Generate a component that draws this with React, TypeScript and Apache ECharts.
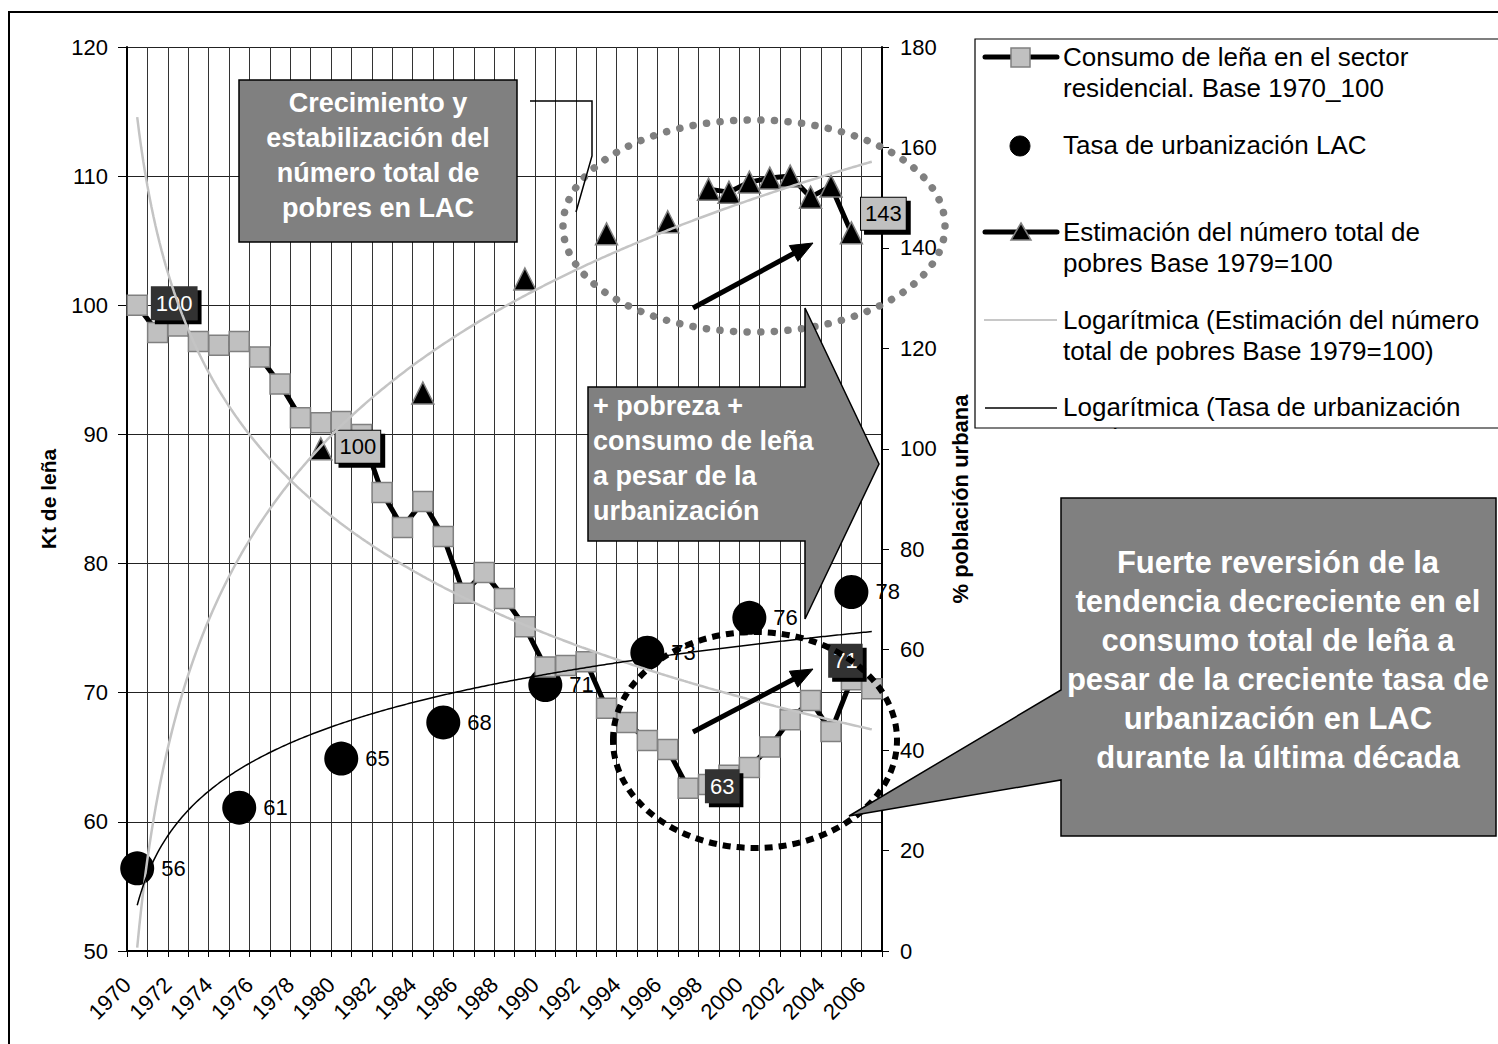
import React, { useEffect, useRef } from 'react';
import * as echarts from 'echarts';

const FONT = '"Liberation Sans", Arial, Helvetica, sans-serif';

// Categories (one per year)
const years = [
  '1970', '1971', '1972', '1973', '1974', '1975', '1976', '1977', '1978', '1979',
  '1980', '1981', '1982', '1983', '1984', '1985', '1986', '1987', '1988', '1989',
  '1990', '1991', '1992', '1993', '1994', '1995', '1996', '1997', '1998', '1999',
  '2000', '2001', '2002', '2003', '2004', '2005', '2006',
];

// Tick labels shown under the axis (every other year)
const xTickLabels = [
  '1970', '1972', '1974', '1976', '1978', '1980', '1982', '1984', '1986', '1988',
  '1990', '1992', '1994', '1996', '1998', '2000', '2002', '2004', '2006',
];

// Consumo de leña en el sector residencial. Base 1970_100 (left axis)
const consumo = [
  100, 97.9, 98.4, 97.2, 96.9, 97.2, 96.0, 93.9, 91.3, 90.9,
  91.0, 90.0, 85.5, 82.8, 84.8, 82.1, 77.7, 79.3, 77.3, 75.1,
  72.0, 72.1, 72.4, 68.8, 67.7, 66.3, 65.6, 62.6, 62.9, 63.6,
  64.2, 65.8, 67.9, 69.4, 67.0, 71.0, 70.3,
];

// Tasa de urbanización LAC (plotted against the left axis in the original)
const urbanizacion = [
  56.4, null, null, null, null, 61.1, null, null, null, null,
  64.9, null, null, null, null, 67.7, null, null, null, null,
  70.6, null, null, null, null, 73.1, null, null, null, null,
  75.8, null, null, null, null, 77.8, null,
];

// Estimación del número total de pobres Base 1979=100 (right axis)
const pobres = [
  null, null, null, null, null, null, null, null, null, 100,
  null, null, null, null, 111.1, null, null, null, null, 133.8,
  null, null, null, 142.8, null, null, 145.2, null, 151.7, 151.1,
  153.1, 153.9, 154.3, 150.1, 152.3, 143.0, null,
];

// Which points carry a boxed data label (index -> style key)
const consumoLabels: Record<number, string> = { 0: 'dark', 27: 'dark', 35: 'dark' };
const pobresLabels: Record<number, string> = { 9: 'light', 35: 'light' };

// label offsets relative to the marker (style only)
const labelOffsets: Record<string, number[]> = {
  'c0': [37, -2], 'c27': [34, -2], 'c35': [-6, -19],
  'p9': [37, -2], 'p35': [32, -19],
};

function logFit(values: (number | null)[]) {
  const xs: number[] = [];
  const ys: number[] = [];
  values.forEach((v, i) => {
    if (v != null) { xs.push(Math.log(i + 1)); ys.push(v); }
  });
  const n = xs.length;
  const mx = xs.reduce((s, v) => s + v, 0) / n;
  const my = ys.reduce((s, v) => s + v, 0) / n;
  let sxy = 0, sxx = 0;
  for (let i = 0; i < n; i++) { sxy += (xs[i] - mx) * (ys[i] - my); sxx += (xs[i] - mx) ** 2; }
  const a = sxy / sxx;
  return { a, b: my - a * mx };
}

// Excel-style logarithmic trendline sampled along the category range (x = 1..n)
function trendPoints(values: (number | null)[]) {
  const { a, b } = logFit(values);
  const n = values.length;
  const pts: number[][] = [];
  const steps = (n - 1) * 10;
  for (let k = 0; k <= steps; k++) {
    const x = 1 + (k * (n - 1)) / steps;
    pts.push([x - 0.5, a * Math.log(x) + b]);
  }
  return pts;
}

function boxLabel(kind: string, offset: number[]) {
  const dark = kind === 'dark';
  return {
    show: true,
    position: 'inside',
    offset,
    formatter: (p: any) => String(Math.round(p.value)),
    fontSize: 22,
    fontFamily: FONT,
    color: dark ? '#ffffff' : '#000000',
    backgroundColor: dark ? '#333333' : '#c0c0c0',
    borderColor: dark ? '#333333' : '#000000',
    borderWidth: 1,
    padding: [6, 4, 4, 4],
    shadowColor: '#000000',
    shadowOffsetX: 4,
    shadowOffsetY: 4,
    shadowBlur: 0,
  };
}

function arrowShapes(x1: number, y1: number, x2: number, y2: number, z: number) {
  const dx = x2 - x1, dy = y2 - y1;
  const len = Math.sqrt(dx * dx + dy * dy);
  const ux = dx / len, uy = dy / len;
  const L = 22, W = 9;
  const bx = x2 - ux * L, by = y2 - uy * L;
  const px = -uy, py = ux;
  return [
    { type: 'line', z, shape: { x1, y1, x2: bx + ux * 2, y2: by + uy * 2 }, style: { stroke: '#000', lineWidth: 5 } },
    { type: 'polygon', z, shape: { points: [[x2, y2], [bx + px * W, by + py * W], [bx - px * W, by - py * W]] }, style: { fill: '#000', stroke: '#000', lineWidth: 1 } },
  ];
}

function legendText(text: string, x: number, y: number, z: number) {
  return { type: 'text', z, x, y, style: { text, fill: '#000', fontSize: 26, fontFamily: FONT, align: 'left', verticalAlign: 'middle' } };
}

export default function App() {
  const ref = useRef<HTMLDivElement>(null);

  useEffect(() => {
    if (!ref.current) return;
    const chart = echarts.init(ref.current, undefined, { renderer: 'svg' });

    const consumoData = consumo.map((v, i) =>
      consumoLabels[i] ? { value: v, label: boxLabel(consumoLabels[i], labelOffsets['c' + i]) } : v);
    const pobresData = pobres.map((v, i) =>
      pobresLabels[i] && v != null ? { value: v, label: boxLabel(pobresLabels[i], labelOffsets['p' + i]) } : v);

    const G = 20;
    const graphic: any[] = [
      // outer chart border
      { type: 'rect', z: G, shape: { x: 9, y: 12, width: 1495, height: 1040 }, style: { fill: 'none', stroke: '#000', lineWidth: 2 } },

      // dotted grey ellipse (poverty growth)
      { type: 'ellipse', z: G + 1, shape: { cx: 754, cy: 226, rx: 191, ry: 106 }, style: { fill: 'none', stroke: '#808080', lineWidth: 7.5, lineDash: [0.1, 13.5], lineCap: 'round' } },

      // box "Crecimiento y estabilización..."
      { type: 'rect', z: G + 2, shape: { x: 239, y: 80, width: 278, height: 162 }, style: { fill: '#808080', stroke: '#000', lineWidth: 1.5 } },
      { type: 'text', z: G + 3, x: 378, y: 155, style: { text: 'Crecimiento y\nestabilización del\nnúmero total de\npobres en LAC', fill: '#fff', fontSize: 27, fontWeight: 'bold', fontFamily: FONT, lineHeight: 35, align: 'center', verticalAlign: 'middle' } },
      { type: 'polyline', z: G + 2, shape: { points: [[530, 101], [592, 101], [592, 156], [576, 212]] }, style: { fill: 'none', stroke: '#000', lineWidth: 1.5 } },

      // big arrow "+ pobreza + consumo de leña..."
      { type: 'polygon', z: G + 4, shape: { points: [[588, 387], [805, 387], [805, 308], [879, 464], [805, 619], [805, 541], [588, 541]] }, style: { fill: '#808080', stroke: '#000', lineWidth: 1.5 } },
      { type: 'text', z: G + 5, x: 593, y: 458, style: { text: '+ pobreza +\nconsumo de leña\na pesar de la\nurbanización', fill: '#fff', fontSize: 27, fontWeight: 'bold', fontFamily: FONT, lineHeight: 35, align: 'left', verticalAlign: 'middle' } },

      // dashed black ellipse (reversal)
      { type: 'ellipse', z: G + 6, shape: { cx: 755, cy: 740, rx: 142, ry: 108 }, style: { fill: 'none', stroke: '#000', lineWidth: 6, lineDash: [8, 6] } },

      // callout "Fuerte reversión..."
      { type: 'polygon', z: G + 7, shape: { points: [[1061, 498], [1496, 498], [1496, 836], [1061, 836], [1061, 780], [849, 816], [1061, 690]] }, style: { fill: '#808080', stroke: '#000', lineWidth: 1.5 } },
      { type: 'text', z: G + 8, x: 1278, y: 660, style: { text: 'Fuerte reversión de la\ntendencia decreciente en el\nconsumo total de leña a\npesar de la creciente tasa de\nurbanización en LAC\ndurante la última década', fill: '#fff', fontSize: 31, fontWeight: 'bold', fontFamily: FONT, lineHeight: 39, align: 'center', verticalAlign: 'middle' } },

      // black arrows
      ...arrowShapes(693, 308, 813, 243, G + 9),
      ...arrowShapes(693, 732, 813, 669, G + 9),

      // legend
      { type: 'rect', z: G + 10, shape: { x: 975, y: 39, width: 600, height: 389 }, style: { fill: '#fff', stroke: 'none' } },
      { type: 'line', z: G + 11, shape: { x1: 985, y1: 57, x2: 1057, y2: 57 }, style: { stroke: '#000', lineWidth: 5, lineCap: 'round' } },
      { type: 'rect', z: G + 12, shape: { x: 1011, y: 48, width: 19, height: 19 }, style: { fill: '#c0c0c0', stroke: '#808080', lineWidth: 1.5 } },
      legendText('Consumo de leña en el sector', 1063, 57, G + 12),
      legendText('residencial. Base 1970_100', 1063, 88, G + 12),
      { type: 'circle', z: G + 12, shape: { cx: 1020, cy: 146, r: 10 }, style: { fill: '#000', stroke: '#000' } },
      legendText('Tasa de urbanización LAC', 1063, 145, G + 12),
      { type: 'line', z: G + 11, shape: { x1: 985, y1: 232, x2: 1057, y2: 232 }, style: { stroke: '#000', lineWidth: 5, lineCap: 'round' } },
      { type: 'polygon', z: G + 12, shape: { points: [[1021, 223], [1031, 240], [1011, 240]] }, style: { fill: '#000', stroke: '#808080', lineWidth: 1.5 } },
      legendText('Estimación del número total de', 1063, 232, G + 12),
      legendText('pobres Base 1979=100', 1063, 263, G + 12),
      { type: 'line', z: G + 11, shape: { x1: 984, y1: 320, x2: 1057, y2: 320 }, style: { stroke: '#c8c8c8', lineWidth: 2 } },
      legendText('Logarítmica (Estimación del número', 1063, 320, G + 12),
      legendText('total de pobres Base 1979=100)', 1063, 351, G + 12),
      { type: 'line', z: G + 11, shape: { x1: 985, y1: 408, x2: 1057, y2: 408 }, style: { stroke: '#000', lineWidth: 1.5 } },
      legendText('Logarítmica (Tasa de urbanización', 1063, 407, G + 12),
      legendText('LAC)', 1063, 438, G + 12),
      { type: 'rect', z: G + 13, shape: { x: 974, y: 429, width: 540, height: 40 }, style: { fill: '#fff', stroke: 'none' } },
      { type: 'rect', z: G + 14, shape: { x: 975, y: 39, width: 600, height: 389 }, style: { fill: 'none', stroke: '#000', lineWidth: 1.2 } },
    ];

    const option: any = {
      animation: false,
      backgroundColor: '#ffffff',
      textStyle: { fontFamily: FONT },
      grid: { left: 127, right: 616, top: 47, bottom: 93, containLabel: false },
      xAxis: [
        { type: 'category', data: years, boundaryGap: true, show: false },
        {
          type: 'value', min: 0, max: years.length, interval: 1, position: 'bottom',
          axisLine: { show: true, onZero: false, lineStyle: { color: '#000', width: 2 } },
          axisTick: { show: true, length: 6, lineStyle: { color: '#000', width: 1 } },
          axisLabel: {
            rotate: 45, fontSize: 22, color: '#000', margin: 30, fontFamily: FONT,
            formatter: (v: number) => (v % 2 === 0 && xTickLabels[v / 2]) ? xTickLabels[v / 2] : '',
          },
          splitLine: { show: true, lineStyle: { color: '#333', width: 1 } },
        },
      ],
      yAxis: [
        {
          type: 'value', min: 50, max: 120, interval: 10, position: 'left',
          name: 'Kt de leña', nameLocation: 'middle', nameGap: 68, nameRotate: 90,
          nameTextStyle: { fontSize: 21, fontWeight: 'bold', color: '#000', fontFamily: FONT },
          axisLine: { show: true, lineStyle: { color: '#000', width: 2 } },
          axisTick: { show: true, length: 9, lineStyle: { color: '#000' } },
          axisLabel: { fontSize: 22, color: '#000', margin: 19, fontFamily: FONT },
          splitLine: { show: true, lineStyle: { color: '#222', width: 1 } },
        },
        {
          type: 'value', min: 0, max: 180, interval: 20, position: 'right',
          name: '% población urbana', nameLocation: 'middle', nameGap: 67, nameRotate: 90,
          nameTextStyle: { fontSize: 22, fontWeight: 'bold', color: '#000', fontFamily: FONT },
          axisLine: { show: true, lineStyle: { color: '#000', width: 2 } },
          axisTick: { show: true, length: 7, lineStyle: { color: '#000' } },
          axisLabel: { fontSize: 22, color: '#000', margin: 18, fontFamily: FONT },
          splitLine: { show: false },
        },
      ],
      series: [
        {
          name: 'Tasa de urbanización LAC', type: 'line', xAxisIndex: 0, yAxisIndex: 0,
          data: urbanizacion, symbol: 'circle', symbolSize: 34, showAllSymbol: true,
          lineStyle: { opacity: 0, width: 0 }, itemStyle: { color: '#000' },
          label: { show: true, position: 'right', distance: 7, fontSize: 22, color: '#000', fontFamily: FONT,
            formatter: (p: any) => String(Math.round(p.value)) },
          z: 2, silent: true,
        },
        {
          name: 'Consumo de leña en el sector residencial. Base 1970_100', type: 'line', xAxisIndex: 0, yAxisIndex: 0,
          data: consumoData, symbol: 'rect', symbolSize: 20, showAllSymbol: true,
          lineStyle: { color: '#000', width: 5 },
          itemStyle: { color: '#c0c0c0', borderColor: '#808080', borderWidth: 1.5 },
          z: 3, silent: true,
        },
        {
          name: 'Estimación del número total de pobres Base 1979=100', type: 'line', xAxisIndex: 0, yAxisIndex: 1,
          data: pobresData, symbol: 'triangle', symbolSize: 22, showAllSymbol: true, connectNulls: false,
          lineStyle: { color: '#000', width: 5 },
          itemStyle: { color: '#000', borderColor: '#808080', borderWidth: 1.5 },
          z: 4, silent: true,
        },
        {
          name: 'Logarítmica (Consumo de leña)', type: 'line', xAxisIndex: 1, yAxisIndex: 0,
          data: trendPoints(consumo), showSymbol: false, smooth: false,
          lineStyle: { color: '#c4c4c4', width: 2.5 }, z: 5, silent: true,
        },
        {
          name: 'Logarítmica (Estimación del número total de pobres Base 1979=100)', type: 'line', xAxisIndex: 1, yAxisIndex: 1,
          data: trendPoints(pobres), showSymbol: false,
          lineStyle: { color: '#c4c4c4', width: 2.5 }, z: 5, silent: true,
        },
        {
          name: 'Logarítmica (Tasa de urbanización LAC)', type: 'line', xAxisIndex: 1, yAxisIndex: 0,
          data: trendPoints(urbanizacion), showSymbol: false,
          lineStyle: { color: '#000', width: 1.5 }, z: 5, silent: true,
        },
      ],
      graphic,
    };

    chart.setOption(option);
    return () => chart.dispose();
  }, []);

  return (
    <div
      ref={ref}
      style={{ position: 'absolute', left: 0, top: 0, width: 1498, height: 1044 }}
    />
  );
}
